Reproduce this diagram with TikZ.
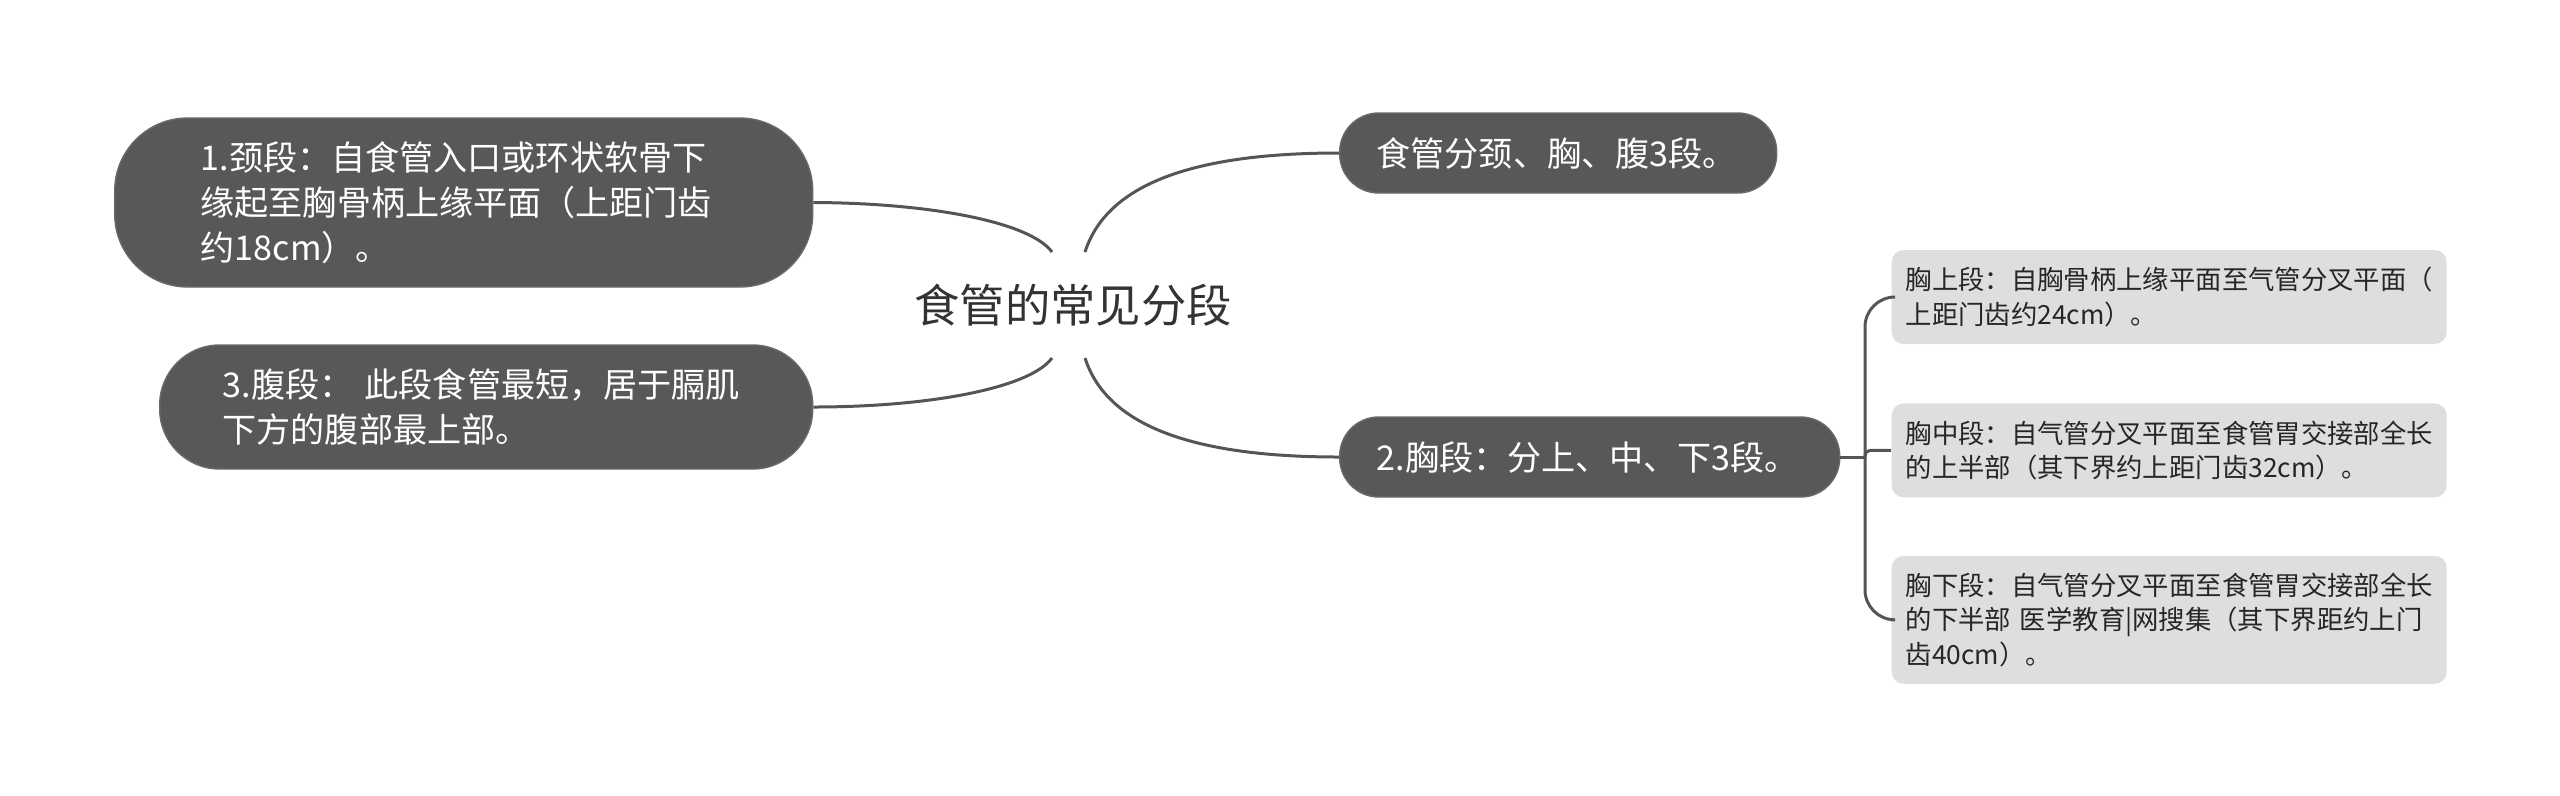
\documentclass[tikz,border=0pt]{standalone}
\usepackage{fontspec}
\setmainfont{Noto Sans CJK SC}
\usetikzlibrary{positioning}

\definecolor{nodegrey}{HTML}{585858}
\definecolor{subgrey}{HTML}{DEDEDE}
\definecolor{linegrey}{HTML}{555555}
\definecolor{rootgrey}{HTML}{333333}

\begin{document}
\begin{tikzpicture}[x=0.1mm,y=-0.1mm,
    link/.style={draw=linegrey,line width=0.3mm},
    root node/.style={rectangle,inner sep=0pt,text=rootgrey,
      font=\fontsize{12.9pt}{15pt}\selectfont},
    main node/.style={rectangle,fill=nodegrey,draw=nodegrey!90!white,
      text=white,rounded corners=#1,align=left,anchor=west,inner ysep=1pt,
      font=\fontsize{9.7pt}{12.8pt}\selectfont},
    main node/.default=3.9mm,
    sub node/.style={rectangle,fill=subgrey,text=black!85,rounded corners=1.2mm,
      align=left,inner xsep=1.4mm,inner ysep=1pt,text width=52.7mm,
      font=\fontsize{7.5pt}{9.8pt}\selectfont}]

  \useasboundingbox (0,0) rectangle (2560,795);

  \node[root node] (ROOT) at (1073,305) {食管的常见分段};
  \coordinate (TL) at (1052,252);
  \coordinate (TR) at (1085,252);
  \coordinate (BL) at (1052,358);
  \coordinate (BR) at (1085,358);

  \node[main node=7.3mm,inner xsep=8.6mm,text width=52.6mm,minimum height=16.9mm]
    (NECK) at (114,202.5) {1.颈段：自食管入口或环状软骨下\\缘起至胸骨柄上缘平面（上距门齿\\约18cm）。};
  \node[main node=6mm,inner xsep=6.3mm,text width=52.7mm,minimum height=12.4mm]
    (ABDO) at (159,407) {3.腹段： 此段食管最短，居于膈肌\\下方的腹部最上部。};
  \node[main node,inner xsep=3.7mm,text width=36.3mm,minimum height=8mm]
    (ALL) at (1339,153) {食管分颈、胸、腹3段。};
  \node[main node,inner xsep=3.7mm,text width=42.6mm,minimum height=8mm]
    (CHEST) at (1339,457) {2.胸段：分上、中、下3段。};

  \node[sub node,anchor=west,minimum height=9.4mm] (UPPER) at (1891,297)
    {胸上段：自胸骨柄上缘平面至气管分叉平面（\\上距门齿约24cm）。};
  \node[sub node,minimum height=9.4mm] (MIDDLE) [below=5.8mm of UPPER]
    {胸中段：自气管分叉平面至食管胃交接部全长\\的上半部（其下界约上距门齿32cm）。};
  \node[sub node,minimum height=12.8mm] (LOWER) [below=5.7mm of MIDDLE]
    {胸下段：自气管分叉平面至食管胃交接部全长\\的下半部 医学教育|网搜集（其下界距约上门\\齿40cm）。};
  \coordinate (J) at (1865,457);

  % branches from the root
  \draw[link] (TL) .. controls (1030,222) and (930,203) .. (NECK.east);
  \draw[link] (BL) .. controls (1030,388) and (930,407) .. (ABDO.east);
  \draw[link] (TR) .. controls (1105,190) and (1180,153) .. (ALL.west);
  \draw[link] (BR) .. controls (1105,420) and (1180,457) .. (CHEST.west);

  % chest sub segments
  \draw[link] (CHEST.east) -- (J);
  \draw[link,rounded corners=3mm] (J) |- (UPPER.west);
  \draw[link,rounded corners=0.5mm] (J) |- (MIDDLE.west);
  \draw[link,rounded corners=3mm] (J) |- (LOWER.west);
\end{tikzpicture}
\end{document}
